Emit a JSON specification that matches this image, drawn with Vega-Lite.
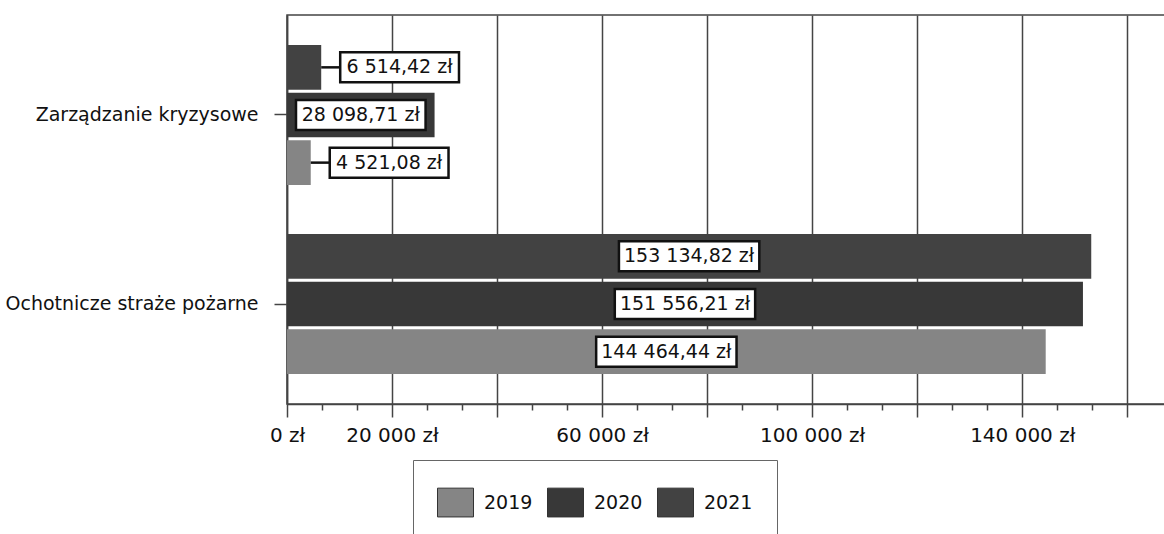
{
  "$schema": "https://vega.github.io/schema/vega-lite/v6.json",
  "autosize": {"type": "none"},
  "padding": {"left": 287, "top": 15, "right": 0, "bottom": 130},
  "width": 879,
  "height": 389,
  "background": "white",
  "config": {
    "view": {"stroke": "#444", "strokeWidth": 1.5},
    "font": "DejaVu Sans"
  },
  "data": {
    "values": [
      {"kategoria": "Zarządzanie kryzysowe", "rok": "2019", "wartosc": 4521.08, "etykieta": "4 521,08 zł"},
      {"kategoria": "Zarządzanie kryzysowe", "rok": "2020", "wartosc": 28098.71, "etykieta": "28 098,71 zł"},
      {"kategoria": "Zarządzanie kryzysowe", "rok": "2021", "wartosc": 6514.42, "etykieta": "6 514,42 zł"},
      {"kategoria": "Ochotnicze straże pożarne", "rok": "2019", "wartosc": 144464.44, "etykieta": "144 464,44 zł"},
      {"kategoria": "Ochotnicze straże pożarne", "rok": "2020", "wartosc": 151556.21, "etykieta": "151 556,21 zł"},
      {"kategoria": "Ochotnicze straże pożarne", "rok": "2021", "wartosc": 153134.82, "etykieta": "153 134,82 zł"}
    ]
  },
  "transform": [
    {"calculate": "length(datum.etykieta)", "as": "len"},
    {"calculate": "datum.wartosc < 20000", "as": "poza"},
    {"calculate": "datum.poza ? datum.wartosc + 3618 + datum.len * 1028 : datum.wartosc / 2", "as": "cx"},
    {"calculate": "datum.cx - datum.len * 1028", "as": "bx"},
    {"calculate": "datum.cx + datum.len * 1028", "as": "bx2"},
    {"calculate": "datum.wartosc + 3618", "as": "lx2"}
  ],
  "encoding": {
    "y": {
      "field": "kategoria",
      "type": "nominal",
      "sort": ["Zarządzanie kryzysowe", "Ochotnicze straże pożarne"],
      "scale": {"paddingInner": 0.26, "paddingOuter": 0.159},
      "axis": {
        "title": null,
        "labelFontSize": 19,
        "labelFont": "DejaVu Sans",
        "labelColor": "#111",
        "tickSize": 13,
        "tickColor": "#444",
        "tickWidth": 1.5,
        "labelPadding": 16,
        "domainColor": "#444",
        "domainWidth": 1.5,
        "labelLimit": 400
      }
    },
    "yOffset": {
      "field": "rok",
      "type": "nominal",
      "sort": "descending",
      "scale": {"paddingInner": 0.064, "paddingOuter": 0}
    }
  },
  "layer": [
    {
      "mark": {"type": "bar"},
      "encoding": {
        "x": {
          "field": "wartosc",
          "type": "quantitative",
          "scale": {"domain": [0, 167370], "nice": false},
          "axis": {
            "title": null,
            "values": [0, 20000, 40000, 60000, 80000, 100000, 120000, 140000, 160000],
            "labelExpr": "datum.value == 0 ? '0 zł' : datum.value == 20000 ? '20 000 zł' : datum.value == 60000 ? '60 000 zł' : datum.value == 100000 ? '100 000 zł' : datum.value == 140000 ? '140 000 zł' : ''",
            "labelFlush": false,
            "labelOverlap": false,
            "labelFontSize": 20,
            "labelFont": "DejaVu Sans",
            "labelColor": "#111",
            "labelPadding": 8,
            "tickSize": 13,
            "tickColor": "#444",
            "tickWidth": 1.5,
            "grid": true,
            "gridColor": "#444",
            "gridWidth": 1.5,
            "domainColor": "#444",
            "domainWidth": 1.5,
            "orient": "bottom"
          }
        },
        "color": {
          "field": "rok",
          "type": "nominal",
          "scale": {"domain": ["2019", "2020", "2021"], "range": ["#858585", "#383838", "#424242"]},
          "legend": {
            "title": null,
            "orient": "none",
            "legendX": 126,
            "legendY": 445,
            "direction": "horizontal",
            "padding": 24,
            "fillColor": "white",
            "strokeColor": "#666",
            "symbolType": "M-1,-0.8H1V0.8H-1Z",
            "symbolSize": 1296,
            "symbolStrokeColor": "#333",
            "symbolStrokeWidth": 1,
            "labelFontSize": 19,
            "labelFont": "DejaVu Sans",
            "labelColor": "#111",
            "labelOffset": 10,
            "columnPadding": 12
          }
        }
      }
    },
    {
      "transform": [{"filter": "datum.poza"}],
      "mark": {"type": "rule", "color": "#111", "strokeWidth": 2.5},
      "encoding": {
        "x": {"field": "wartosc", "type": "quantitative", "axis": null},
        "x2": {"field": "lx2"}
      }
    },
    {
      "mark": {"type": "bar", "height": 30, "fill": "white", "stroke": "#111", "strokeWidth": 2.5},
      "encoding": {
        "x": {
          "field": "bx",
          "type": "quantitative",
          "axis": {
            "values": [6666.67, 13333.33, 26666.67, 33333.33, 46666.67, 53333.33, 66666.67, 73333.33, 86666.67, 93333.33, 106666.67, 113333.33, 126666.67, 133333.33, 146666.67, 153333.33],
            "labels": false,
            "grid": false,
            "domain": false,
            "tickSize": 6,
            "tickColor": "#444",
            "tickWidth": 1.5,
            "title": null,
            "orient": "bottom"
          }
        },
        "x2": {"field": "bx2"}
      }
    },
    {
      "mark": {"type": "text", "fontSize": 19, "font": "DejaVu Sans", "color": "#111", "align": "center", "baseline": "middle"},
      "encoding": {
        "x": {"field": "cx", "type": "quantitative", "axis": null},
        "text": {"field": "etykieta"}
      }
    }
  ],
  "resolve": {"axis": {"x": "independent"}}
}
